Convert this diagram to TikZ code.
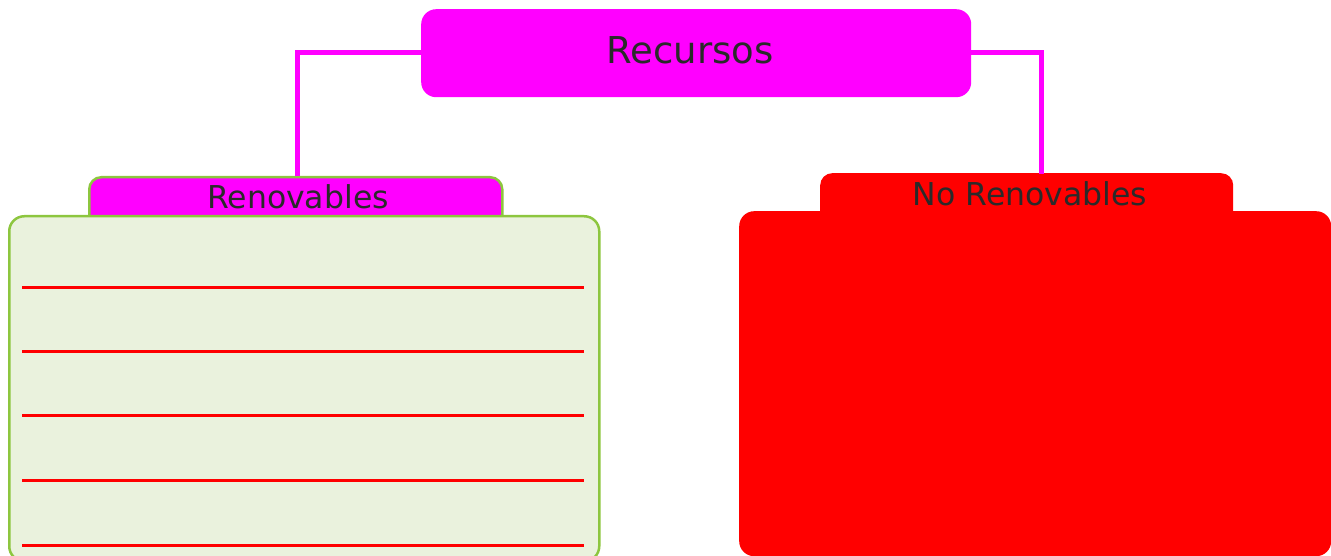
\documentclass[tikz,border=0pt]{standalone}
\usepackage{fontspec}
\setmainfont{DejaVu Sans}
\definecolor{mag}{HTML}{FF00FF}
\definecolor{lgreen}{HTML}{EAF2DD}
\definecolor{bgreen}{HTML}{8DC63F}
\definecolor{txt}{HTML}{2A2A2A}
\definecolor{rred}{HTML}{FF0000}
\tikzset{
  box/.style={rectangle, inner sep=0pt, anchor=north west, text=txt},
  lbl/.style={text=txt, inner sep=0pt, anchor=center},
  conn/.style={draw=mag, line width=5pt},
  rule/.style={draw=rred, line width=3pt},
}
\begin{document}
\begin{tikzpicture}[x=1pt,y=-1pt]
\useasboundingbox (0,0) rectangle (1331,556);
% top node
\node[box, fill=mag, rounded corners=15pt, minimum width=550pt, minimum height=88pt] (recursos) at (421,9) {};
\node[lbl, font=\fontsize{37}{43}\selectfont] (reclabel) at (690,50) {Recursos};
% left tab and body
\node[box, fill=mag, draw=bgreen, line width=2.5pt, rounded corners=12pt,
      minimum width=413pt, minimum height=50pt] (rtab) at (88,176) {};
\node[box, fill=lgreen, draw=bgreen, line width=2.5pt, rounded corners=15pt,
      minimum width=590pt, minimum height=345pt] (rbody) at (8,215) {};
\node[lbl, font=\fontsize{31.5}{37}\selectfont] (rlabel) at (298,197) {Renovables};
% right tab and body
\node[box, fill=rred, rounded corners=12pt, minimum width=413pt, minimum height=50pt] (ntab) at (820,173) {};
\node[box, fill=rred, rounded corners=15pt, minimum width=592pt, minimum height=345pt] (nbody) at (739,211) {};
\node[lbl, font=\fontsize{31.5}{37}\selectfont] (nlabel) at (1030,194) {No Renovables};
% ruled lines
\foreach \yy in {287,351,415,480,545}{
  \draw[rule] (22,\yy) -- (584,\yy);
}
% connectors
\coordinate (lend) at (297,176);
\coordinate (rend) at (1041,174);
\draw[conn] (recursos.west |- 0,53) -| (lend);
\draw[conn] (recursos.east |- 0,53) -| (rend);
\end{tikzpicture}
\end{document}
